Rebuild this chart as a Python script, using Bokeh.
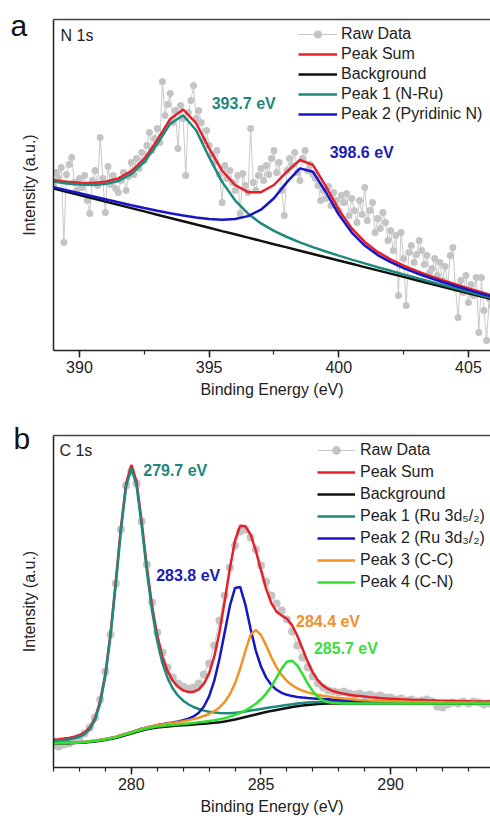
from bokeh.plotting import figure
from bokeh.models import (Range1d, Legend, LegendItem, Label, LinearAxis,
                          FixedTicker, SingleIntervalTicker)
from bokeh.layouts import column
from bokeh.embed import file_html
from bokeh.resources import INLINE

FONT = "Liberation Sans"

# ---------------- Panel a : N 1s ----------------
a_raw_x = [
    389.0, 389.1, 389.2, 389.3, 389.4, 389.5, 389.6, 389.7, 389.8, 389.9,
    390.0, 390.1, 390.2, 390.3, 390.4, 390.5, 390.6, 390.7, 390.8, 390.9,
    391.0, 391.1, 391.2, 391.3, 391.4, 391.5, 391.6, 391.7, 391.8, 391.9,
    392.0, 392.1, 392.2, 392.3, 392.4, 392.5, 392.6, 392.7, 392.8, 392.9,
    393.0, 393.1, 393.2, 393.3, 393.4, 393.5, 393.6, 393.7, 393.8, 393.9,
    394.0, 394.1, 394.2, 394.3, 394.4, 394.5, 394.6, 394.7, 394.8, 394.9,
    395.0, 395.1, 395.2, 395.3, 395.4, 395.5, 395.6, 395.7, 395.8, 395.9,
    396.0, 396.1, 396.2, 396.3, 396.4, 396.5, 396.6, 396.7, 396.8, 396.9,
    397.0, 397.1, 397.2, 397.3, 397.4, 397.5, 397.6, 397.7, 397.8, 397.9,
    398.0, 398.1, 398.2, 398.3, 398.4, 398.5, 398.6, 398.7, 398.8, 398.9,
    399.0, 399.1, 399.2, 399.3, 399.4, 399.5, 399.6, 399.7, 399.8, 399.9,
    400.0, 400.1, 400.2, 400.3, 400.4, 400.5, 400.6, 400.7, 400.8, 400.9,
    401.0, 401.1, 401.2, 401.3, 401.4, 401.5, 401.6, 401.7, 401.8, 401.9,
    402.0, 402.1, 402.2, 402.3, 402.4, 402.5, 402.6, 402.7, 402.8, 402.9,
    403.0, 403.1, 403.2, 403.3, 403.4, 403.5, 403.6, 403.7, 403.8, 403.9,
    404.0, 404.1, 404.2, 404.3, 404.4, 404.5, 404.6, 404.7, 404.8, 404.9,
    405.0, 405.1, 405.2, 405.3, 405.4, 405.5, 405.6, 405.7, 405.8, 405.9]
a_raw_y = [
    165, 178, 172, 183, 108, 176, 186, 193, 168, 160,
    172, 163, 175, 150, 137, 170, 180, 165, 213, 172,
    138, 184, 166, 175, 162, 158, 170, 178, 160, 174,
    188, 176, 192, 182, 198, 190, 205, 218, 200, 212,
    222, 208, 269, 235, 246, 257, 228, 240, 202, 245,
    232, 175, 238, 250, 265, 232, 240, 228, 210, 220,
    205, 196, 188, 200, 176, 148, 185, 172, 180, 168,
    160, 175, 137, 177, 165, 158, 222, 168, 160, 175,
    182, 170, 185, 176, 192, 200, 178, 188, 160, 135,
    180, 192, 185, 198, 178, 170, 192, 200, 180, 186,
    176, 172, 165, 150, 160, 152, 164, 145, 158, 150,
    140, 155, 148, 157, 135, 152, 140, 128, 150, 136,
    163, 130, 140, 148, 118, 132, 122, 138, 128, 110,
    120, 100, 115, 55, 118, 92, 45, 98, 105, 88,
    96, 110, 100, 86, 95, 78, 82, 92, 75, 88,
    70, 84, 65, 95, 103, 62, 33, 70, 58, 75,
    48, 66, 55, 73, 18, 73, 40, 10, 52, 45]

a_fit_x = [389.0, 389.5, 390.0, 390.5, 391.0, 391.5, 392.0, 392.5, 393.0, 393.5,
           394.0, 394.5, 395.0, 395.5, 396.0, 396.5, 397.0, 397.5, 398.0, 398.5,
           399.0, 399.5, 400.0, 400.5, 401.0, 401.5, 402.0, 402.5, 403.0, 403.5,
           404.0, 404.5, 405.0, 405.5, 406.0]
a_sum = [170.3, 168.7, 167.7, 167.5, 168.7, 172.1, 179.3, 191.7, 210.4, 231.5,
         241.0, 227.3, 202.1, 180.0, 165.5, 158.3, 158.3, 165.5, 178.8, 190.5,
         185.7, 164.3, 140.8, 122.1, 108.6, 98.6, 91.1, 84.9, 79.6, 74.7,
         70.3, 66.2, 62.1, 58.2, 54.6]
a_bg = [162.0, 158.7, 155.5, 152.2, 148.9, 145.6, 142.4, 139.1, 135.8, 132.5,
        129.3, 126.0, 122.7, 119.4, 116.2, 112.9, 109.6, 106.3, 103.1, 99.8,
        96.5, 93.2, 90.0, 86.7, 83.4, 80.1, 76.9, 73.6, 70.3, 67.0,
        63.8, 60.5, 57.2, 53.9, 50.7]
a_peak1 = [168.9, 167.1, 165.9, 165.5, 166.4, 169.5, 176.4, 188.3, 206.4, 226.8,
           235.3, 220.3, 193.3, 168.6, 150.2, 136.8, 127.1, 119.6, 113.5, 108.2,
           103.4, 99.0, 94.9, 90.9, 87.1, 83.3, 79.7, 76.1, 72.6, 69.0,
           65.6, 62.2, 58.7, 55.3, 52.0]
a_peak2 = [163.4, 160.3, 157.3, 154.2, 151.2, 148.2, 145.3, 142.5, 139.8, 137.2,
           135.0, 133.0, 131.5, 130.8, 131.5, 134.4, 140.8, 152.2, 168.4, 182.1,
           178.8, 158.5, 135.9, 117.9, 104.9, 95.4, 88.3, 82.4, 77.3, 72.7,
           68.5, 64.5, 60.6, 56.8, 53.3]
a_labels = ["Raw Data", "Peak Sum", "Background", "Peak 1 (N-Ru)", "Peak 2 (Pyridinic N)"]

# ---------------- Panel b : C 1s ----------------
b_x = [277.0, 277.2, 277.4, 277.6, 277.8, 278.0, 278.2, 278.4, 278.6, 278.8,
       279.0, 279.2, 279.4, 279.6, 279.8, 280.0, 280.2, 280.4, 280.6, 280.8,
       281.0, 281.2, 281.4, 281.6, 281.8, 282.0, 282.2, 282.4, 282.6, 282.8,
       283.0, 283.2, 283.4, 283.6, 283.8, 284.0, 284.2, 284.4, 284.6, 284.8,
       285.0, 285.2, 285.4, 285.6, 285.8, 286.0, 286.2, 286.4, 286.6, 286.8,
       287.0, 287.2, 287.4, 287.6, 287.8, 288.0, 288.2, 288.4, 288.6, 288.8,
       289.0, 289.2, 289.4, 289.6, 289.8, 290.0, 290.2, 290.4, 290.6, 290.8,
       291.0, 291.2, 291.4, 291.6, 291.8, 292.0, 292.2, 292.4, 292.6, 292.8,
       293.0, 293.2, 293.4, 293.6, 293.8, 294.0]
b_raw = [22, 21, 23, 24, 27, 30, 34, 40, 50, 68,
         96, 133, 184, 238, 282, 296, 284, 246, 203, 165,
         135, 115, 100, 90, 84, 81, 79, 80, 84, 93,
         104, 122, 147, 172, 200, 222, 236, 238, 230, 218,
         202, 186, 172, 164, 157, 148, 136, 122, 110, 100,
         91, 84, 80, 77, 76, 75, 76, 74, 73, 74,
         72, 73, 71, 72, 70, 70, 68, 69, 67, 68,
         66, 67, 68, 66, 61, 60, 63, 65, 64, 66,
         64, 66, 65, 63, 64, 64]
b_sum = [27.9, 28.3, 28.9, 29.6, 30.8, 32.4, 35.1, 40.1, 49.5, 66.4,
         93.9, 134.5, 185.7, 240.2, 284.1, 302.5, 286.2, 245.9, 200.6, 161.6,
         131.9, 110.6, 96.3, 86.7, 80.7, 77.1, 75.5, 75.6, 78.1, 83.8,
         94.1, 111.1, 135.5, 166.1, 199.1, 227.1, 241.8, 241.2, 232.8, 217.0,
         197.4, 178.7, 164.3, 155.8, 151.9, 148.8, 142.2, 131.7, 118.8, 105.9,
         94.9, 86.9, 81.6, 78.4, 76.2, 74.7, 73.7, 72.8, 72.1, 71.4,
         70.9, 70.3, 69.9, 69.4, 69.1, 68.8, 68.5, 68.2, 68.0, 67.7,
         67.5, 67.4, 67.2, 67.1, 66.9, 66.8, 66.7, 66.5, 66.4, 66.3,
         66.2, 66.1, 66.1, 66.0, 65.9, 65.8]
b_bg = [24.0, 24.0, 24.0, 24.2, 24.4, 24.7, 25.0, 25.5, 26.0, 26.8,
        27.5, 28.5, 29.5, 31.0, 32.5, 34.0, 35.5, 37.0, 38.2, 39.2,
        40.0, 40.6, 41.1, 41.5, 41.9, 42.2, 42.6, 43.0, 43.4, 43.8,
        44.2, 44.7, 45.3, 46.0, 47.0, 48.0, 49.2, 50.5, 51.8, 53.0,
        54.3, 55.5, 56.6, 57.6, 58.6, 59.6, 60.5, 61.3, 62.0, 62.6,
        63.1, 63.5, 63.8, 64.0, 64.0, 64.0, 64.0, 64.0, 64.0, 64.0,
        64.0, 64.0, 64.0, 64.0, 64.0, 64.0, 64.0, 64.0, 64.0, 64.0,
        64.0, 64.0, 64.0, 64.0, 64.0, 64.0, 64.0, 64.0, 64.0, 64.0,
        64.0, 64.0, 64.0, 64.0, 64.0, 64.0]
b_peak1 = [26.6, 26.9, 27.4, 28.1, 29.2, 30.7, 33.3, 38.2, 47.4, 64.2,
           91.6, 132.0, 182.9, 237.2, 280.9, 299.0, 282.5, 241.8, 196.1, 156.6,
           126.3, 104.4, 89.3, 78.9, 71.8, 66.8, 63.2, 60.5, 58.5, 56.9,
           55.7, 54.9, 54.4, 54.2, 54.3, 54.7, 55.3, 56.0, 56.9, 57.7,
           58.6, 59.5, 60.3, 61.0, 61.8, 62.6, 63.3, 64.0, 64.5, 65.0,
           65.3, 65.6, 65.8, 66.0, 65.9, 65.7, 65.7, 65.6, 65.5, 65.5,
           65.4, 65.3, 65.3, 65.2, 65.2, 65.1, 65.1, 65.0, 65.0, 65.0,
           64.9, 64.9, 64.9, 64.8, 64.8, 64.8, 64.8, 64.7, 64.7, 64.7,
           64.7, 64.6, 64.6, 64.6, 64.6, 64.6]
b_peak2 = [24.5, 24.5, 24.6, 24.8, 25.0, 25.3, 25.7, 26.2, 26.8, 27.6,
           28.4, 29.5, 30.6, 32.2, 33.8, 35.4, 37.0, 38.7, 40.1, 41.3,
           42.4, 43.3, 44.2, 45.1, 46.1, 47.2, 48.8, 51.1, 54.8, 61.0,
           71.1, 86.8, 108.7, 135.1, 161.6, 179.6, 180.4, 162.7, 138.5, 116.9,
           101.0, 89.9, 82.5, 77.7, 74.6, 72.7, 71.4, 70.5, 69.9, 69.4,
           69.1, 68.8, 68.5, 68.2, 67.7, 67.4, 67.1, 66.8, 66.6, 66.3,
           66.2, 66.0, 65.9, 65.7, 65.6, 65.5, 65.4, 65.3, 65.2, 65.2,
           65.1, 65.0, 65.0, 64.9, 64.9, 64.8, 64.8, 64.8, 64.7, 64.7,
           64.7, 64.6, 64.6, 64.6, 64.6, 64.5]
b_peak3 = [24.6, 24.6, 24.6, 24.8, 25.1, 25.4, 25.8, 26.3, 26.9, 27.7,
           28.5, 29.5, 30.6, 32.2, 33.8, 35.4, 37.0, 38.7, 40.0, 41.2,
           42.2, 43.1, 43.9, 44.6, 45.4, 46.2, 47.3, 48.4, 49.8, 51.5,
           53.5, 56.3, 60.1, 65.5, 73.3, 84.2, 99.0, 116.8, 132.6, 137.7,
           132.5, 121.9, 110.2, 100.1, 92.3, 86.5, 82.2, 79.1, 76.8, 75.1,
           73.7, 72.6, 71.7, 70.9, 70.1, 69.4, 68.9, 68.4, 68.0, 67.6,
           67.3, 67.0, 66.8, 66.5, 66.3, 66.2, 66.0, 65.9, 65.8, 65.6,
           65.5, 65.5, 65.4, 65.3, 65.2, 65.2, 65.1, 65.1, 65.0, 65.0,
           64.9, 64.9, 64.8, 64.8, 64.8, 64.7]
b_peak4 = [24.3, 24.3, 24.3, 24.5, 24.7, 25.1, 25.4, 25.9, 26.4, 27.3,
           28.0, 29.0, 30.1, 31.6, 33.1, 34.7, 36.2, 37.8, 39.0, 40.1,
           41.0, 41.6, 42.2, 42.6, 43.1, 43.5, 44.0, 44.6, 45.2, 45.8,
           46.4, 47.2, 48.2, 49.3, 50.9, 52.6, 54.7, 57.2, 60.2, 63.7,
           68.2, 73.9, 81.1, 89.8, 99.0, 105.8, 106.8, 102.0, 93.6, 84.2,
           76.1, 70.4, 67.0, 65.3, 64.5, 64.2, 64.0, 64.0, 64.0, 64.0,
           64.0, 64.0, 64.0, 64.0, 64.0, 64.0, 64.0, 64.0, 64.0, 64.0,
           64.0, 64.0, 64.0, 64.0, 64.0, 64.0, 64.0, 64.0, 64.0, 64.0,
           64.0, 64.0, 64.0, 64.0, 64.0, 64.0]
b_labels = ["Raw Data", "Peak Sum", "Background", "Peak 1 (Ru 3d\u2085/\u2082)",
            "Peak 2 (Ru 3d\u2083/\u2082)", "Peak 3 (C-C)", "Peak 4 (C-N)"]

# ---------------- styles ----------------
RAW_DOT = "#c4c4c4"
RAW_LINE = "#c9c9c9"
RED = "#e5202a"
BLACK = "#111111"
TEAL = "#1e8a7e"
BLUE = "#1616c4"
ORANGE = "#f39323"
GREEN = "#30e030"
AX = "#222222"
LW = 2.5


def style(p, ticker):
    p.outline_line_color = None
    p.xgrid.visible = False
    p.ygrid.visible = False
    p.background_fill_color = "white"
    p.border_fill_color = "white"
    ax = p.xaxis[0]
    ax.ticker = ticker
    ax.axis_line_color = AX
    ax.axis_line_width = 1.5
    ax.major_tick_line_color = AX
    ax.major_tick_line_width = 1.5
    ax.minor_tick_line_color = AX
    ax.minor_tick_line_width = 1.2
    ax.major_tick_in = 0
    ax.major_tick_out = 7
    ax.minor_tick_in = 0
    ax.minor_tick_out = 4
    ax.major_label_text_font = FONT
    ax.major_label_text_font_size = "16px"
    ax.major_label_text_color = AX
    ax.major_label_standoff = 3
    ax.axis_label = "Binding Energy (eV)"
    ax.axis_label_text_font = FONT
    ax.axis_label_text_font_size = "16px"
    ax.axis_label_text_font_style = "normal"
    ax.axis_label_text_color = AX
    ax.axis_label_standoff = 5
    ay = p.yaxis[0]
    ay.ticker = FixedTicker(ticks=[])
    ay.axis_line_color = AX
    ay.axis_line_width = 1.5
    ay.major_tick_line_color = None
    ay.minor_tick_line_color = None
    ay.axis_label = "Intensity (a.u.)"
    ay.axis_label_text_font = FONT
    ay.axis_label_text_font_size = "16px"
    ay.axis_label_text_font_style = "normal"
    ay.axis_label_text_color = AX
    ay.axis_label_standoff = 16
    top = LinearAxis(ticker=FixedTicker(ticks=[]), axis_line_color="#444444",
                     axis_line_width=1.5, major_tick_line_color=None,
                     minor_tick_line_color=None, major_label_text_font_size="0px")
    p.add_layout(top, "above")


def text(p, x, y, s, color, size="16px", bold=True):
    p.add_layout(Label(x=x, y=y, text=s, text_color=color, text_font=FONT,
                       text_font_size=size,
                       text_font_style="bold" if bold else "normal",
                       text_baseline="middle", text_align="left"))


def panel_letter(p, sx, sy, s):
    # placed in the left side panel so that it is not clipped to the frame
    p.add_layout(Label(x=sx, y=sy, x_units="screen", y_units="screen", text=s,
                       text_color="#111111", text_font=FONT,
                       text_font_size="30px", text_baseline="middle",
                       text_align="left"), "left")


def legend(p, items, loc, gw, standoff, lh):
    lg = Legend(items=items, location=loc, glyph_width=gw, glyph_height=lh,
                label_height=lh, label_standoff=standoff, spacing=0, padding=0,
                margin=0, label_text_font=FONT, label_text_font_size="16px",
                label_text_color=AX, background_fill_alpha=0,
                border_line_alpha=0)
    p.add_layout(lg)


# ---------------- figure a ----------------
pa = figure(width=490, height=410, x_range=Range1d(389, 405.85),
            y_range=Range1d(0, 331), output_backend="svg", toolbar_location=None,
            min_border_left=53, min_border_right=0, min_border_top=19,
            min_border_bottom=60)
style(pa, SingleIntervalTicker(interval=5, num_minor_ticks=2))

ra_line = pa.line(a_raw_x, a_raw_y, line_color=RAW_LINE, line_width=1)
ra_dot = pa.scatter(a_raw_x, a_raw_y, size=7, marker="circle",
                    fill_color=RAW_DOT, line_color=None)
ra_sum = pa.line(a_fit_x, a_sum, line_color=RED, line_width=LW)
ra_bg = pa.line(a_fit_x, a_bg, line_color=BLACK, line_width=LW)
ra_p1 = pa.line(a_fit_x, a_peak1, line_color=TEAL, line_width=LW)
ra_p2 = pa.line(a_fit_x, a_peak2, line_color=BLUE, line_width=LW)

legend(pa, [LegendItem(label=a_labels[0], renderers=[ra_line, ra_dot]),
            LegendItem(label=a_labels[1], renderers=[ra_sum]),
            LegendItem(label=a_labels[2], renderers=[ra_bg]),
            LegendItem(label=a_labels[3], renderers=[ra_p1]),
            LegendItem(label=a_labels[4], renderers=[ra_p2])],
       (245, 226), 39, 4, 20)

text(pa, 395.1, 247, "393.7 eV", "#21877d")
text(pa, 399.65, 198, "398.6 eV", "#1b1bb8")
text(pa, 389.27, 315, "N 1s", AX, bold=False)
panel_letter(pa, 10, 325, "a")

# ---------------- figure b ----------------
pb = figure(width=490, height=408, x_range=Range1d(277, 293.85),
            y_range=Range1d(0, 332), output_backend="svg", toolbar_location=None,
            min_border_left=53, min_border_right=0, min_border_top=25,
            min_border_bottom=51)
style(pb, SingleIntervalTicker(interval=5, num_minor_ticks=5))

rb_line = pb.line(b_x, b_raw, line_color=RAW_LINE, line_width=1)
rb_dot = pb.scatter(b_x, b_raw, size=8, marker="circle",
                    fill_color=RAW_DOT, line_color=None)
rb_sum = pb.line(b_x, b_sum, line_color=RED, line_width=LW)
rb_bg = pb.line(b_x, b_bg, line_color=BLACK, line_width=LW)
rb_p1 = pb.line(b_x, b_peak1, line_color=TEAL, line_width=LW)
rb_p2 = pb.line(b_x, b_peak2, line_color=BLUE, line_width=LW)
rb_p3 = pb.line(b_x, b_peak3, line_color=ORANGE, line_width=LW)
rb_p4 = pb.line(b_x, b_peak4, line_color=GREEN, line_width=LW)

legend(pb, [LegendItem(label=b_labels[0], renderers=[rb_line, rb_dot]),
            LegendItem(label=b_labels[1], renderers=[rb_sum]),
            LegendItem(label=b_labels[2], renderers=[rb_bg]),
            LegendItem(label=b_labels[3], renderers=[rb_p1]),
            LegendItem(label=b_labels[4], renderers=[rb_p2]),
            LegendItem(label=b_labels[5], renderers=[rb_p3]),
            LegendItem(label=b_labels[6], renderers=[rb_p4])],
       (264, 174), 38, 5, 22)

text(pb, 280.46, 297, "279.7 eV", "#21877d")
text(pb, 280.96, 192, "283.8 eV", "#1b1bb8")
text(pb, 286.35, 146, "284.4 eV", "#f0922c")
text(pb, 287.04, 119, "285.7 eV", "#3ddc3d")
text(pb, 277.23, 317, "C 1s", AX, bold=False)
panel_letter(pb, 13, 329, "b")

layout = column(pa, pb, spacing=0)
open("out.html", "w").write(file_html(layout, INLINE))
